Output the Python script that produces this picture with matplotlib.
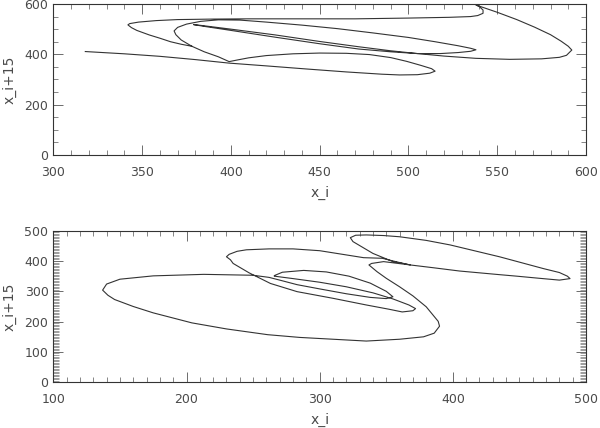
import matplotlib
matplotlib.use('Agg')
import matplotlib.pyplot as plt
from matplotlib.ticker import MultipleLocator

# upper panel: x_i against x_i+15 (in drawing order)
top_x = [318, 340, 360, 380, 399, 420, 442, 465, 485, 495, 505, 512, 515, 513, 507,
         499, 490, 478, 465, 450, 435, 420, 410, 404, 399,
         393, 385, 378, 372, 369, 368,
         370, 375, 383, 393, 405, 420, 440, 460, 480, 500, 515, 528, 535, 538,
         535, 528, 518, 505, 490, 472, 450, 425, 400, 385, 379,
         383, 400, 425, 450, 472, 490, 505, 520, 538, 557, 575, 585, 589, 592,
         590, 586, 580, 571, 561, 550, 538,
         540, 542, 542, 539, 535, 523, 500, 470, 440, 410, 390, 370, 358, 348, 343, 342,
         344, 347, 354, 360, 366, 372, 378]
top_y = [411, 402, 392, 379, 365, 354, 342, 330, 321, 318, 319, 325, 333, 343, 356,
         372, 387, 399, 404, 405, 402, 395, 386, 378, 371,
         390, 410, 432, 457, 478, 493,
         507, 520, 531, 537, 536, 528, 516, 502, 485, 467, 450, 434, 424, 418,
         412, 407, 403, 403, 410, 421, 442, 468, 495, 511, 518,
         515, 500, 477, 451, 430, 414, 403, 393, 384, 380, 382, 388, 396, 417,
         432, 452, 478, 508, 538, 567, 596,
         589, 576, 563, 554, 550, 547, 544, 541, 541, 541, 540, 538, 534, 528, 522, 517,
         506, 495, 477, 464, 450, 440, 432]

# lower panel
bot_x = [266, 272, 288, 305, 322, 338, 350, 355, 350, 338, 320, 300, 283, 270, 262,
         250, 213, 175, 150, 140, 137, 141, 146, 160, 175, 204, 230, 261, 285, 310, 335,
         360, 378, 386, 390, 389, 380, 370, 360, 350, 343, 337, 339, 348, 368,
         355, 340, 325, 323, 327, 335, 348, 360, 380, 398, 435, 468, 480, 486, 488,
         480, 465, 448, 435, 405, 385, 368, 358, 347,
         333, 300, 280, 262, 245, 238, 232, 230, 233, 235, 247, 263, 283, 310, 335,
         352, 362, 370, 372, 367, 355, 340, 320, 300, 280, 266]
bot_y = [352, 363, 369, 364, 350, 327, 300, 282, 276, 280, 292, 308, 322, 337, 346,
         353, 356, 351, 340, 324, 304, 287, 273, 250, 229, 196, 176, 157, 148, 142, 136,
         142, 150, 162, 185, 201, 249, 285, 315, 343, 365, 387, 392, 398, 387,
         398, 425, 464, 477, 485, 486, 484, 480, 468, 453, 414, 375, 362, 350, 342,
         337, 343, 350, 355, 367, 378, 387, 397, 409,
         411, 434, 440, 440, 437, 432, 422, 414, 404, 392, 361, 326, 299, 277, 255,
         241, 232, 236, 243, 255, 275, 295, 315, 330, 342, 350]

ink = '#333333'
txt = '#4a4a4a'


def style_axes(ax, xlim, ylim, xmaj, xmin, ymaj, ymin):
    ax.set_xlim(*xlim)
    ax.set_ylim(*ylim)
    ax.xaxis.set_major_locator(MultipleLocator(xmaj))
    ax.xaxis.set_minor_locator(MultipleLocator(xmin))
    ax.yaxis.set_major_locator(MultipleLocator(ymaj))
    ax.yaxis.set_minor_locator(MultipleLocator(ymin))
    ax.tick_params(which='both', direction='in', top=True, right=True,
                   color='#555555', labelcolor=txt, labelsize=9, width=0.6)
    ax.tick_params(axis='x', which='major', length=7, pad=8)
    ax.tick_params(axis='y', which='major', length=7, pad=3.5)
    ax.tick_params(which='minor', length=3.5, width=0.5)
    for sp in ax.spines.values():
        sp.set_color(ink)
        sp.set_linewidth(0.8)
    ax.set_xlabel('x_i', fontsize=10, color=txt, labelpad=5)
    ax.set_ylabel('x_i+15', fontsize=10, color=txt, labelpad=6)


fig = plt.figure(figsize=(6.0, 4.28), dpi=100)
ax1 = fig.add_axes([0.0889, 0.6379, 0.8878, 0.3528])
ax2 = fig.add_axes([0.0889, 0.1068, 0.8878, 0.3542])

ax1.plot(top_x, top_y, color=ink, lw=0.8)
style_axes(ax1, (300, 600), (0, 600), 50, 10, 200, 50)

ax2.plot(bot_x, bot_y, color=ink, lw=0.8)
style_axes(ax2, (100, 500), (0, 500), 100, 10, 100, 5)
ax2.tick_params(axis='y', which='minor', length=4, width=0.4)

fig.savefig('out.png', dpi=100)
